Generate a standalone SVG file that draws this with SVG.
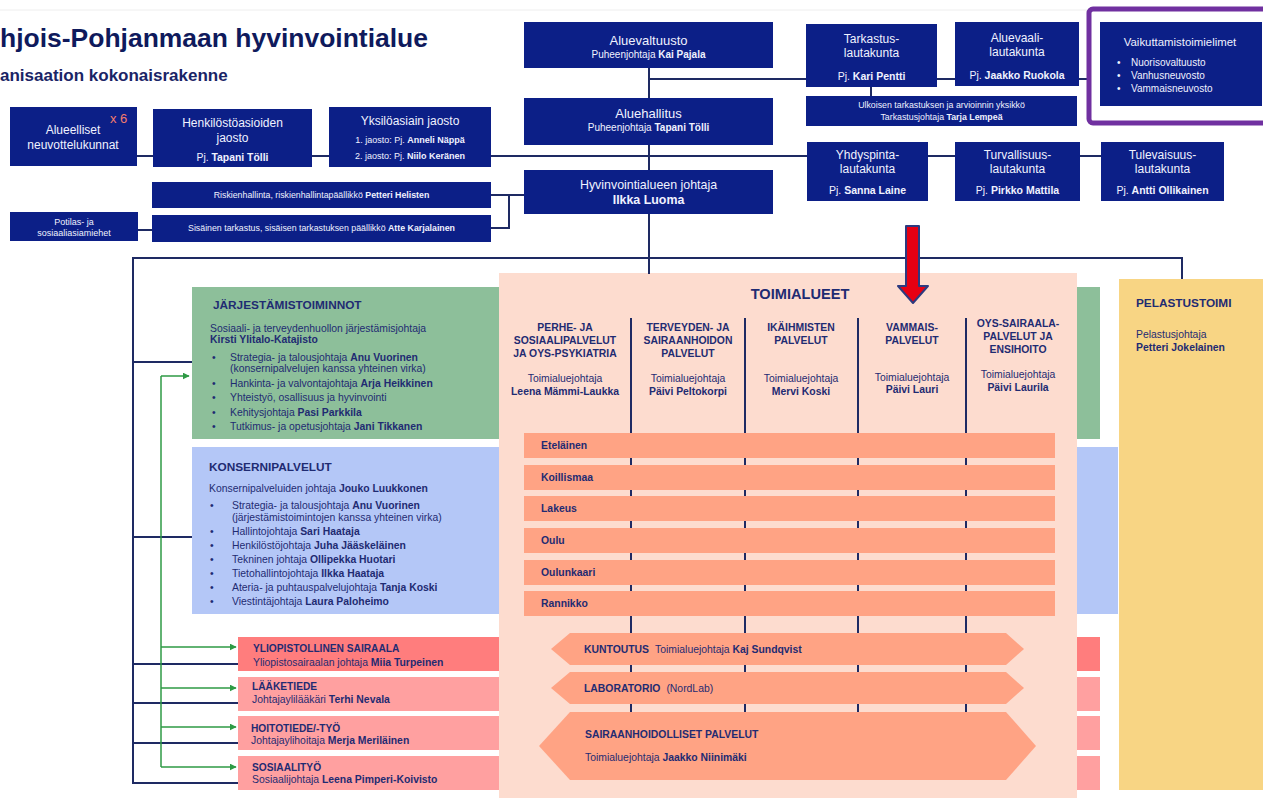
<svg xmlns="http://www.w3.org/2000/svg" width="1263" height="798" viewBox="0 0 1263 798">
<defs>
<style>
text{font-family:"Liberation Sans",Arial,sans-serif}
.nb{fill:#0c1f87}
.w{fill:#f0f2ff}
.c{text-anchor:middle}
.b{font-weight:bold}
.ln{stroke:#1e2a63;stroke-width:2;fill:none}
.gl{stroke:#2e9a44;stroke-width:1.5;fill:none}
.ga{stroke:#2e9a44;stroke-width:1.5;fill:none;marker-end:url(#ga)}
.dk{fill:#1f2b72}
.dv{stroke:#1e2a63;stroke-width:2}
.bar{fill:#ffa384}
.s12{font-size:12px}
.s13{font-size:13px}
.s105{font-size:10.5px}
.s10{font-size:10px}
.s104{font-size:10.4px}
.s9{font-size:9px}
.s88{font-size:8.8px}
.h{font-size:11.8px;font-weight:bold}
</style>
<marker id="ga" viewBox="0 0 10 10" refX="9" refY="5" markerWidth="7" markerHeight="7" orient="auto" markerUnits="userSpaceOnUse">
<path d="M0,0 L10,5 L0,10 z" fill="#2e9a44"/>
</marker>
</defs>
<rect width="1263" height="798" fill="#ffffff"/>
<line x1="0" y1="10" x2="1263" y2="10" stroke="#eeeeee" stroke-width="1"/>

<g id="title">
<text x="0" y="47" font-size="25" font-weight="bold" fill="#0f1a5c" textLength="428" lengthAdjust="spacingAndGlyphs">hjois-Pohjanmaan hyvinvointialue</text>
<text x="0" y="81" font-size="17" font-weight="bold" fill="#1a2466">anisaation kokonaisrakenne</text>
</g>

<g id="connectors">
<line class="ln" x1="649" y1="68" x2="649" y2="98"/>
<line class="ln" x1="649" y1="79" x2="806" y2="79"/>
<line class="ln" x1="937" y1="79" x2="955" y2="79"/>
<line class="ln" x1="1079" y1="79" x2="1100" y2="79"/>
<line class="ln" x1="871" y1="87" x2="871" y2="96"/>
<line class="ln" x1="649" y1="145" x2="649" y2="170"/>
<line class="ln" x1="137" y1="156" x2="807" y2="156"/>
<line class="ln" x1="928" y1="156" x2="955" y2="156"/>
<line class="ln" x1="1080" y1="156" x2="1101" y2="156"/>
<line class="ln" x1="491" y1="195" x2="524" y2="195"/>
<line class="ln" x1="491" y1="228" x2="510" y2="228"/>
<line class="ln" x1="509" y1="194" x2="509" y2="229"/>
<line class="ln" x1="138" y1="230" x2="152" y2="230"/>
<line class="ln" x1="649" y1="214" x2="649" y2="273"/>
<line class="ln" x1="132" y1="258" x2="1183" y2="258"/>
<line class="ln" x1="1182" y1="258" x2="1182" y2="279"/>
<line class="ln" x1="133" y1="257" x2="133" y2="784"/>
<line class="ln" x1="133" y1="362" x2="192" y2="362"/>
<line class="ln" x1="133" y1="537" x2="192" y2="537"/>
<line class="ln" x1="133" y1="664" x2="238" y2="664"/>
<line class="ln" x1="133" y1="703" x2="238" y2="703"/>
<line class="ln" x1="133" y1="743" x2="238" y2="743"/>
<line class="ln" x1="133" y1="783" x2="238" y2="783"/>
<line class="gl" x1="161" y1="376" x2="161" y2="767"/>
<line class="ga" x1="161" y1="376" x2="189" y2="376"/>
<line class="ga" x1="161" y1="647" x2="236" y2="647"/>
<line class="ga" x1="161" y1="688" x2="236" y2="688"/>
<line class="ga" x1="161" y1="727" x2="236" y2="727"/>
<line class="ga" x1="161" y1="767" x2="236" y2="767"/>
</g>

<g id="alueelliset">
<rect class="nb" x="10" y="107" width="127" height="59"/>
<text x="110" y="123" font-size="13" fill="#f47c6c">x 6</text>
<text class="w c s12" x="73" y="134">Alueelliset</text>
<text class="w c s12" x="73" y="149">neuvottelukunnat</text>
</g>
<g id="henkilosto">
<rect class="nb" x="153" y="109" width="159" height="58"/>
<text class="w c s12" x="232.5" y="127">Henkilöstöasioiden</text>
<text class="w c s12" x="232.5" y="142">jaosto</text>
<text class="w c s104" x="232.5" y="161">Pj. <tspan class="b">Tapani Tölli</tspan></text>
</g>
<g id="yksiloasiain">
<rect class="nb" x="329" y="107" width="162" height="60"/>
<text class="w c s12" x="410" y="125">Yksilöasiain jaosto</text>
<text class="w c s9" x="410" y="143">1. jaosto: Pj. <tspan class="b">Anneli Näppä</tspan></text>
<text class="w c s9" x="410" y="159">2. jaosto: Pj. <tspan class="b">Niilo Keränen</tspan></text>
</g>
<g id="riskienhallinta">
<rect class="nb" x="152" y="182" width="339" height="26"/>
<text class="w c s88" x="321.5" y="198">Riskienhallinta, riskienhallintapäällikkö <tspan class="b">Petteri Helisten</tspan></text>
</g>
<g id="potilas">
<rect class="nb" x="10" y="212" width="128" height="29"/>
<text class="w c s9" x="74" y="225">Potilas- ja</text>
<text class="w c s9" x="74" y="236">sosiaaliasiamiehet</text>
</g>
<g id="sisainen">
<rect class="nb" x="152" y="215" width="339" height="27"/>
<text class="w c s88" x="321.5" y="231">Sisäinen tarkastus, sisäisen tarkastuksen päällikkö <tspan class="b">Atte Karjalainen</tspan></text>
</g>

<g id="aluevaltuusto">
<rect class="nb" x="524" y="22" width="249" height="46"/>
<text class="w c s13" x="648.5" y="45">Aluevaltuusto</text>
<text class="w c s10" x="648.5" y="58">Puheenjohtaja <tspan class="b">Kai Pajala</tspan></text>
</g>
<g id="aluehallitus">
<rect class="nb" x="524" y="98" width="249" height="47"/>
<text class="w c s13" x="648.5" y="118">Aluehallitus</text>
<text class="w c s10" x="648.5" y="131">Puheenjohtaja <tspan class="b">Tapani Tölli</tspan></text>
</g>
<g id="hyvinvointialueen-johtaja">
<rect class="nb" x="524" y="170" width="249" height="44"/>
<text class="w c" font-size="12.4" x="648.5" y="189">Hyvinvointialueen johtaja</text>
<text class="w c b" font-size="12.4" x="648.5" y="204">Ilkka Luoma</text>
</g>
<g id="tarkastuslautakunta">
<rect class="nb" x="806" y="24" width="131" height="63"/>
<text class="w c s12" x="871.5" y="43">Tarkastus-</text>
<text class="w c s12" x="871.5" y="57">lautakunta</text>
<text class="w c s105" x="871.5" y="80">Pj. <tspan class="b">Kari Pentti</tspan></text>
</g>
<g id="aluevaalilautakunta">
<rect class="nb" x="955" y="22" width="124" height="64"/>
<text class="w c s12" x="1017" y="42">Aluevaali-</text>
<text class="w c s12" x="1017" y="56">lautakunta</text>
<text class="w c s105" x="1017" y="79">Pj. <tspan class="b">Jaakko Ruokola</tspan></text>
</g>
<g id="ulkoisen">
<rect class="nb" x="806" y="96" width="271" height="30"/>
<text class="w c s88" x="941.5" y="108">Ulkoisen tarkastuksen ja arvioinnin yksikkö</text>
<text class="w c s88" x="941.5" y="120">Tarkastusjohtaja <tspan class="b">Tarja Lempeä</tspan></text>
</g>
<g id="vaikuttamistoimielimet">
<rect x="1089" y="9" width="180" height="114" rx="4" fill="#ffffff" stroke="#7030a0" stroke-width="5"/>
<rect class="nb" x="1100" y="22" width="162" height="84"/>
<text class="w c" font-size="11.4" x="1180" y="46">Vaikuttamistoimielimet</text>
<text class="w s10" x="1117" y="66">•</text><text class="w s10" x="1131" y="66">Nuorisovaltuusto</text>
<text class="w s10" x="1117" y="79">•</text><text class="w s10" x="1131" y="79">Vanhusneuvosto</text>
<text class="w s10" x="1117" y="92">•</text><text class="w s10" x="1131" y="92">Vammaisneuvosto</text>
</g>
<g id="yhdyspintalautakunta">
<rect class="nb" x="807" y="142" width="121" height="59"/>
<text class="w c s12" x="867.5" y="159">Yhdyspinta-</text>
<text class="w c s12" x="867.5" y="173">lautakunta</text>
<text class="w c s105" x="867.5" y="194">Pj. <tspan class="b">Sanna Laine</tspan></text>
</g>
<g id="turvallisuuslautakunta">
<rect class="nb" x="955" y="142" width="125" height="59"/>
<text class="w c s12" x="1017.5" y="159">Turvallisuus-</text>
<text class="w c s12" x="1017.5" y="173">lautakunta</text>
<text class="w c s105" x="1017.5" y="194">Pj. <tspan class="b">Pirkko Mattila</tspan></text>
</g>
<g id="tulevaisuuslautakunta">
<rect class="nb" x="1101" y="142" width="123" height="59"/>
<text class="w c s12" x="1162.5" y="159">Tulevaisuus-</text>
<text class="w c s12" x="1162.5" y="173">lautakunta</text>
<text class="w c s105" x="1162.5" y="194">Pj. <tspan class="b">Antti Ollikainen</tspan></text>
</g>

<g id="jarjestamistoiminnot">
<rect x="192" y="287" width="908" height="152" fill="#8dbf9a"/>
<text class="dk h" x="213" y="309">JÄRJESTÄMISTOIMINNOT</text>
<text class="dk s104" x="210" y="331.5">Sosiaali- ja terveydenhuollon järjestämisjohtaja</text>
<text class="dk s104 b" x="210" y="343">Kirsti Ylitalo-Katajisto</text>
<text class="dk s104" x="212" y="360.5">•</text><text class="dk s104" x="230" y="360.5">Strategia- ja talousjohtaja <tspan class="b">Anu Vuorinen</tspan></text>
<text class="dk s104" x="230" y="372">(konsernipalvelujen kanssa yhteinen virka)</text>
<text class="dk s104" x="212" y="386.5">•</text><text class="dk s104" x="230" y="386.5">Hankinta- ja valvontajohtaja <tspan class="b">Arja Heikkinen</tspan></text>
<text class="dk s104" x="212" y="400.5">•</text><text class="dk s104" x="230" y="400.5">Yhteistyö, osallisuus ja hyvinvointi</text>
<text class="dk s104" x="212" y="415.5">•</text><text class="dk s104" x="230" y="415.5">Kehitysjohtaja <tspan class="b">Pasi Parkkila</tspan></text>
<text class="dk s104" x="212" y="429.5">•</text><text class="dk s104" x="230" y="429.5">Tutkimus- ja opetusjohtaja <tspan class="b">Jani Tikkanen</tspan></text>
</g>
<g id="konsernipalvelut">
<rect x="192" y="447" width="926" height="167" fill="#b4c7f7"/>
<text class="dk h" x="209" y="471">KONSERNIPALVELUT</text>
<text class="dk s104" x="209" y="491.5">Konsernipalveluiden johtaja <tspan class="b">Jouko Luukkonen</tspan></text>
<text class="dk s104" x="210" y="508.5">•</text><text class="dk s104" x="232" y="508.5">Strategia- ja talousjohtaja <tspan class="b">Anu Vuorinen</tspan></text>
<text class="dk s104" x="232" y="520.5">(järjestämistoimintojen kanssa yhteinen virka)</text>
<text class="dk s104" x="210" y="534.5">•</text><text class="dk s104" x="232" y="534.5">Hallintojohtaja <tspan class="b">Sari Haataja</tspan></text>
<text class="dk s104" x="210" y="548.5">•</text><text class="dk s104" x="232" y="548.5">Henkilöstöjohtaja <tspan class="b">Juha Jääskeläinen</tspan></text>
<text class="dk s104" x="210" y="562.5">•</text><text class="dk s104" x="232" y="562.5">Tekninen johtaja <tspan class="b">Ollipekka Huotari</tspan></text>
<text class="dk s104" x="210" y="576.5">•</text><text class="dk s104" x="232" y="576.5">Tietohallintojohtaja <tspan class="b">Ilkka Haataja</tspan></text>
<text class="dk s104" x="210" y="590.5">•</text><text class="dk s104" x="232" y="590.5">Ateria- ja puhtauspalvelujohtaja <tspan class="b">Tanja Koski</tspan></text>
<text class="dk s104" x="210" y="604.5">•</text><text class="dk s104" x="232" y="604.5">Viestintäjohtaja <tspan class="b">Laura Paloheimo</tspan></text>
</g>
<g id="yliopistollinen-sairaala">
<rect x="238" y="637" width="862" height="34" fill="#ff7d7d"/>
<text class="dk b" font-size="10.2" x="253" y="651.5">YLIOPISTOLLINEN SAIRAALA</text>
<text class="dk s104" x="253" y="665.5">Yliopistosairaalan johtaja <tspan class="b">Miia Turpeinen</tspan></text>
</g>
<g id="laaketiede">
<rect x="238" y="677" width="862" height="34" fill="#ffa0a0"/>
<text class="dk b" font-size="10.2" x="252" y="689.5">LÄÄKETIEDE</text>
<text class="dk s104" x="252" y="703">Johtajaylilääkäri <tspan class="b">Terhi Nevala</tspan></text>
</g>
<g id="hoitotiede">
<rect x="238" y="716" width="862" height="34" fill="#ffa0a0"/>
<text class="dk b" font-size="10.2" x="251" y="731.5">HOITOTIEDE/-TYÖ</text>
<text class="dk s104" x="251" y="744">Johtajaylihoitaja <tspan class="b">Merja Meriläinen</tspan></text>
</g>
<g id="sosiaalityo">
<rect x="238" y="756" width="862" height="34" fill="#ffa0a0"/>
<text class="dk b" font-size="10.2" x="252" y="770.5">SOSIAALITYÖ</text>
<text class="dk s104" x="252" y="783">Sosiaalijohtaja <tspan class="b">Leena Pimperi-Koivisto</tspan></text>
</g>
<g id="pelastustoimi">
<rect x="1119" y="279" width="144" height="511" fill="#f8d584"/>
<text class="dk h" x="1136" y="307">PELASTUSTOIMI</text>
<text class="dk s104" x="1136" y="337.5">Pelastusjohtaja</text>
<text class="dk s104 b" x="1136" y="350.5">Petteri Jokelainen</text>
</g>

<g id="toimialueet">
<rect x="499" y="273" width="578" height="525" fill="#fddccf"/>
<line class="ln" x1="649" y1="272" x2="649" y2="274"/>
<text class="dk b c" x="800" y="299" font-size="14.6">TOIMIALUEET</text>
<line class="dv" x1="631" y1="318" x2="631" y2="712"/>
<line class="dv" x1="745" y1="318" x2="745" y2="712"/>
<line class="dv" x1="858" y1="318" x2="858" y2="712"/>
<line class="dv" x1="966" y1="318" x2="966" y2="712"/>
<g id="col-perhe">
<text class="dk b c s104" x="565" y="330.5">PERHE- JA</text>
<text class="dk b c s104" x="565" y="343.5">SOSIAALIPALVELUT</text>
<text class="dk b c s104" x="565" y="356.5">JA OYS-PSYKIATRIA</text>
<text class="dk c s104" x="565" y="381.5">Toimialuejohtaja</text>
<text class="dk b c s104" x="565" y="394.5">Leena Mämmi-Laukka</text>
</g>
<g id="col-terveyden">
<text class="dk b c s104" x="688" y="330.5">TERVEYDEN- JA</text>
<text class="dk b c s104" x="688" y="343.5">SAIRAANHOIDON</text>
<text class="dk b c s104" x="688" y="356.5">PALVELUT</text>
<text class="dk c s104" x="688" y="381.5">Toimialuejohtaja</text>
<text class="dk b c s104" x="688" y="394.5">Päivi Peltokorpi</text>
</g>
<g id="col-ikaihmisten">
<text class="dk b c s104" x="801" y="330.5">IKÄIHMISTEN</text>
<text class="dk b c s104" x="801" y="343.5">PALVELUT</text>
<text class="dk c s104" x="801" y="381.5">Toimialuejohtaja</text>
<text class="dk b c s104" x="801" y="394.5">Mervi Koski</text>
</g>
<g id="col-vammais">
<text class="dk b c s104" x="912" y="330.5">VAMMAIS-</text>
<text class="dk b c s104" x="912" y="343.5">PALVELUT</text>
<text class="dk c s104" x="912" y="380.5">Toimialuejohtaja</text>
<text class="dk b c s104" x="912" y="392.5">Päivi Lauri</text>
</g>
<g id="col-oys">
<text class="dk b c s104" x="1018" y="326.5">OYS-SAIRAALA-</text>
<text class="dk b c s104" x="1018" y="339.5">PALVELUT JA</text>
<text class="dk b c s104" x="1018" y="352.5">ENSIHOITO</text>
<text class="dk c s104" x="1018" y="377.5">Toimialuejohtaja</text>
<text class="dk b c s104" x="1018" y="390.5">Päivi Laurila</text>
</g>
<g id="bar-etelainen"><rect class="bar" x="524" y="433" width="531" height="25"/><text class="dk b s104" x="541" y="449">Eteläinen</text></g>
<g id="bar-koillismaa"><rect class="bar" x="524" y="465" width="531" height="25"/><text class="dk b s104" x="541" y="481">Koillismaa</text></g>
<g id="bar-lakeus"><rect class="bar" x="524" y="496" width="531" height="25"/><text class="dk b s104" x="541" y="512">Lakeus</text></g>
<g id="bar-oulu"><rect class="bar" x="524" y="528" width="531" height="25"/><text class="dk b s104" x="541" y="544">Oulu</text></g>
<g id="bar-oulunkaari"><rect class="bar" x="524" y="560" width="531" height="25"/><text class="dk b s104" x="541" y="576">Oulunkaari</text></g>
<g id="bar-rannikko"><rect class="bar" x="524" y="591" width="531" height="25"/><text class="dk b s104" x="541" y="607">Rannikko</text></g>
<g id="kuntoutus">
<polygon class="bar" points="551,649 570,633 1006,633 1024,649 1006,665 570,665"/>
<text class="dk s104" x="584" y="653"><tspan class="b">KUNTOUTUS</tspan><tspan dx="6">Toimialuejohtaja </tspan><tspan class="b">Kaj Sundqvist</tspan></text>
</g>
<g id="laboratorio">
<polygon class="bar" points="551,688 570,672 1006,672 1024,688 1006,704 570,704"/>
<text class="dk s104" x="584" y="692"><tspan class="b">LABORATORIO</tspan><tspan dx="6">(NordLab)</tspan></text>
</g>
<g id="sairaanhoidolliset">
<polygon class="bar" points="539,746 570,712 1006,712 1036,746 1006,780 570,780"/>
<text class="dk s104 b" x="585" y="738">SAIRAANHOIDOLLISET PALVELUT</text>
<text class="dk s104" x="585" y="761">Toimialuejohtaja <tspan class="b">Jaakko Niinimäki</tspan></text>
</g>
</g>

<g id="red-arrow">
<polygon points="906,226 919,226 919,286 928,286 913,303 898,286 906,286" fill="#e60012" stroke="#2d3a7f" stroke-width="2" stroke-linejoin="round"/>
</g>
</svg>
